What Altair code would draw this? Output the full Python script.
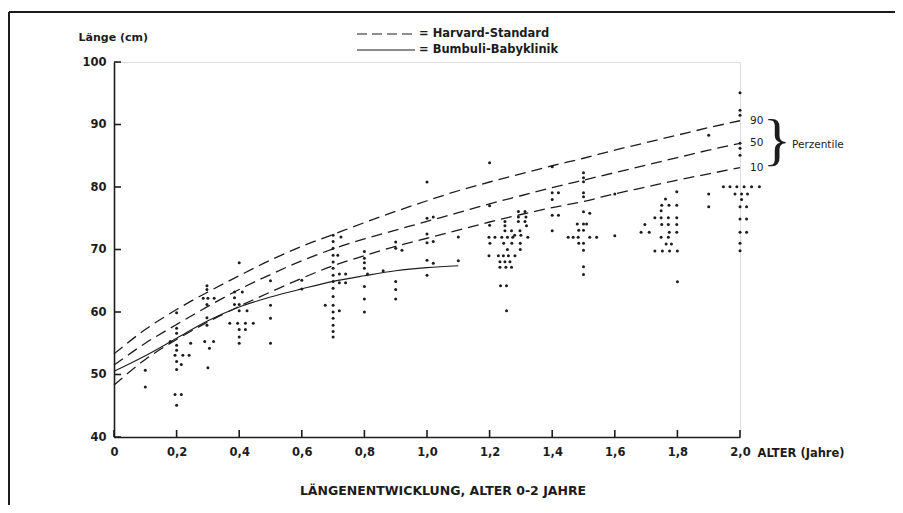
import altair as alt
import pandas as pd

# ---------------- data ----------------
curve_age = [0.0, 0.1, 0.2, 0.3, 0.4, 0.5, 0.6, 0.7, 0.8, 0.9, 1.0,
             1.1, 1.2, 1.3, 1.4, 1.5, 1.6, 1.7, 1.8, 1.9, 2.0]
p90 = [53.3, 57.2, 60.4, 63.2, 65.8, 68.3, 70.5, 72.4, 74.3, 76.1, 77.8,
       79.4, 80.8, 82.1, 83.4, 84.6, 85.9, 87.1, 88.3, 89.5, 90.6]
p50 = [51.5, 55.0, 58.0, 60.9, 63.6, 66.0, 68.2, 70.1, 71.7, 73.1, 74.5,
       75.9, 77.3, 78.6, 79.9, 81.1, 82.3, 83.5, 84.7, 85.9, 87.0]
p10 = [48.3, 52.4, 55.6, 58.4, 60.9, 63.2, 65.4, 67.4, 69.0, 70.5, 71.8,
       73.1, 74.4, 75.6, 76.7, 77.7, 78.9, 80.0, 81.1, 82.1, 83.1]
bumbuli_age = [0.0, 0.1, 0.2, 0.3, 0.4, 0.5, 0.6, 0.7, 0.8, 0.9, 1.0, 1.1]
bumbuli_len = [50.5, 53.0, 55.8, 58.6, 60.8, 62.4, 63.7, 64.9, 65.8, 66.6, 67.1, 67.4]

dot_age = [
    0.10, 0.10,
    0.20, 0.20, 0.20, 0.18, 0.20, 0.245, 0.20, 0.195, 0.22, 0.24, 0.20, 0.215, 0.20, 0.195, 0.215, 0.20,
    0.297, 0.297, 0.285, 0.30, 0.32, 0.297, 0.297, 0.297, 0.29, 0.318, 0.305, 0.30,
    0.40, 0.385, 0.41, 0.385, 0.385, 0.40, 0.40, 0.425, 0.37, 0.395, 0.42, 0.445, 0.40, 0.42, 0.40, 0.40,
    0.50, 0.50, 0.50, 0.50,
    0.60, 0.60,
    0.70, 0.70, 0.70, 0.70, 0.70, 0.70, 0.70, 0.70, 0.70, 0.70, 0.70, 0.70, 0.70, 0.70, 0.70, 0.70,
    0.725, 0.715, 0.72, 0.74, 0.72, 0.74, 0.675, 0.72,
    0.80, 0.80, 0.80, 0.80, 0.81, 0.80, 0.80, 0.80,
    0.86,
    0.90, 0.90, 0.92, 0.90, 0.90, 0.90,
    1.00, 1.00, 1.02, 1.00, 1.00, 1.02, 1.00, 1.02, 1.00,
    1.10, 1.10,
    1.20, 1.20, 1.20,
    1.292, 1.313, 1.292, 1.316, 1.249, 1.292, 1.313, 1.249, 1.318,
    1.249, 1.27, 1.297, 1.28, 1.30,
    1.198, 1.217, 1.239, 1.257, 1.274, 1.322,
    1.201, 1.245, 1.271, 1.298, 1.257, 1.298,
    1.198, 1.228, 1.244, 1.26, 1.281,
    1.233, 1.249, 1.265, 1.233, 1.252, 1.27,
    1.235, 1.254, 1.254,
    1.40, 1.40, 1.42, 1.40, 1.40, 1.42, 1.40,
    1.50, 1.50, 1.50, 1.50, 1.50, 1.50, 1.52, 1.48, 1.50, 1.51, 1.485, 1.50,
    1.451, 1.467, 1.483, 1.52, 1.542, 1.485, 1.50, 1.50, 1.50, 1.50,
    1.60, 1.60,
    1.798, 1.762, 1.75, 1.773, 1.798, 1.748, 1.728, 1.748, 1.771, 1.798,
    1.696, 1.75, 1.771, 1.798, 1.684, 1.71, 1.774, 1.798, 1.748, 1.771,
    1.764, 1.781, 1.728, 1.752, 1.775, 1.80, 1.80,
    1.90, 1.90, 1.90,
    1.947, 1.968, 1.99, 2.013, 2.037, 2.062, 1.984, 2.005, 2.024, 2.005,
    2.00, 2.021, 2.00, 2.021, 2.00, 2.021, 2.00, 2.00,
    2.00, 2.00, 2.00, 2.00, 2.00, 2.00,
]
dot_len = [
    50.7, 48.0,
    59.9, 57.4, 56.6, 55.3, 54.7, 55.0, 53.9, 53.1, 53.1, 53.1, 52.1, 51.6, 50.8, 46.8, 46.8, 45.1,
    64.2, 63.6, 62.2, 62.2, 62.2, 61.2, 59.1, 57.9, 55.3, 55.3, 54.2, 51.1,
    67.9, 63.2, 63.2, 62.3, 61.2, 61.2, 60.2, 60.2, 58.2, 58.2, 58.2, 58.2, 57.2, 57.2, 56.0, 55.0,
    65.0, 61.1, 59.0, 55.0,
    65.1, 63.7,
    72.3, 71.3, 70.2, 69.1, 68.0, 67.0, 65.9, 64.9, 63.8, 62.5, 61.1, 60.0, 59.0, 57.9, 56.9, 56.0,
    72.0, 69.1, 66.1, 66.1, 64.7, 64.7, 61.1, 60.2,
    69.7, 68.6, 67.9, 67.0, 66.1, 64.1, 62.1, 60.0,
    66.6,
    71.2, 70.2, 69.9, 64.9, 63.6, 62.1,
    80.8, 75.0, 75.2, 72.5, 71.1, 71.3, 68.3, 67.8, 65.9,
    72.0, 68.2,
    83.9, 77.0, 73.9,
    76.1, 76.1, 75.2, 75.2, 74.5, 74.5, 74.5, 73.8, 73.8,
    73.0, 73.0, 73.0, 72.3, 72.3,
    71.95, 71.95, 71.95, 71.95, 71.95, 71.95,
    71.0, 71.0, 71.0, 71.0, 70.0, 70.0,
    69.0, 69.0, 69.0, 69.0, 69.0,
    68.05, 68.05, 68.05, 67.15, 67.15, 67.15,
    64.2, 64.2, 60.2,
    83.25, 79.1, 79.1, 78.0, 75.5, 75.5, 73.0,
    82.3, 81.5, 80.85, 79.1, 78.45, 76.05, 75.8, 74.1, 74.1, 74.1, 73.1, 73.1,
    71.95, 71.95, 71.95, 71.95, 71.95, 71.0, 71.0, 69.9, 67.25, 66.0,
    78.9, 72.2,
    79.25, 78.1, 77.1, 77.1, 77.1, 76.2, 75.1, 75.1, 75.1, 75.1,
    74.0, 74.0, 74.0, 74.0, 72.75, 72.75, 72.75, 72.75, 71.95, 71.95,
    70.9, 70.9, 69.76, 69.76, 69.76, 69.76, 64.85,
    88.3, 78.9, 76.85,
    80.05, 80.05, 80.05, 80.05, 80.05, 80.05, 78.9, 78.9, 78.9, 78.0,
    76.85, 76.85, 74.9, 74.9, 72.75, 72.75, 71.0, 69.8,
    95.1, 92.3, 91.5, 87.0, 86.2, 85.1,
]

pct_labels = ["90", "50", "10"]
x_tick_values = [0.0, 0.2, 0.4, 0.6, 0.8, 1.0, 1.2, 1.4, 1.6, 1.8, 2.0]
y_tick_values = [40, 50, 60, 70, 80, 90, 100]
legend_labels = ["= Harvard-Standard", "= Bumbuli-Babyklinik"]
chart_title = "LÄNGENENTWICKLUNG, ALTER 0-2 JAHRE"

# ---------------- tables ----------------
rows = []
for name, vals in zip(pct_labels, [p90, p50, p10]):
    for a, v in zip(curve_age, vals):
        rows.append({"curve": "H" + name, "age": a, "len": v})
harvard_df = pd.DataFrame(rows)
bumbuli_df = pd.DataFrame({"curve": "B", "age": bumbuli_age, "len": bumbuli_len})
dots_df = pd.DataFrame({"age": dot_age, "len": dot_len})
pct_df = pd.DataFrame({"age": [2.0] * 3, "len": [p90[-1], p50[-1], p10[-1]], "label": pct_labels})
brace_df = pd.DataFrame({"age": [2.0], "len": [(p90[-1] + p10[-1]) / 2]})
xt_df = pd.DataFrame({"age": x_tick_values})
yt_df = pd.DataFrame({"len": y_tick_values})
one = pd.DataFrame({"k": [0]})

INK = "#1c1c1c"
FONT = "DejaVu Sans"

xscale = alt.Scale(domain=[0, 2], nice=False, zero=False)
yscale = alt.Scale(domain=[40, 100], nice=False, zero=False)

xaxis = alt.Axis(
    values=x_tick_values, grid=False, ticks=False, tickSize=0,
    domainColor=INK, domainWidth=1.6,
    labelExpr="datum.value == 0 ? '0' : replace(format(datum.value, '.1f'), '.', ',')",
    labelFont=FONT, labelFontSize=11.5, labelFontWeight="bold", labelColor=INK,
    labelPadding=9, labelFlush=False,
    title="ALTER (Jahre)", titleFont=FONT, titleFontSize=11.5, titleFontWeight="bold",
    titleColor=INK, titleX=643, titleY=16, titleAlign="left", titleBaseline="middle",
)
yaxis = alt.Axis(
    values=y_tick_values, grid=False, ticks=False, tickSize=0,
    domainColor=INK, domainWidth=1.6,
    labelFont=FONT, labelFontSize=11.5, labelFontWeight="bold", labelColor=INK,
    labelPadding=8,
    title="Länge (cm)", titleFont=FONT, titleFontSize=11, titleFontWeight="bold",
    titleColor=INK, titleAngle=0, titleX=-36, titleY=-25, titleAlign="left",
    titleBaseline="middle",
)

X = alt.X("age:Q", scale=xscale, axis=xaxis)
Y = alt.Y("len:Q", scale=yscale, axis=yaxis)

harvard = alt.Chart(harvard_df).mark_line(
    color=INK, strokeWidth=1.3, strokeDash=[11, 6], interpolate="monotone"
).encode(x=X, y=Y, detail="curve:N")

bumbuli = alt.Chart(bumbuli_df).mark_line(
    color=INK, strokeWidth=1.1, interpolate="monotone"
).encode(x=X, y=Y)

dots = alt.Chart(dots_df).mark_circle(color=INK, size=9, opacity=1).encode(x=X, y=Y)

pct_text = alt.Chart(pct_df).mark_text(
    align="left", baseline="middle", dx=10, font=FONT, fontSize=10.5, color=INK
).encode(x=X, y=Y, text="label:N")

brace = alt.Chart(brace_df).mark_text(
    align="left", baseline="middle", dx=23, dy=-2, font="Liberation Serif", fontSize=58,
    color=INK, text="}"
).encode(x=X, y=Y)

perz = alt.Chart(brace_df).mark_text(
    align="left", baseline="middle", dx=52, dy=1, font=FONT, fontSize=10.5, color=INK,
    text="Perzentile"
).encode(x=X, y=Y)

xticks = alt.Chart(xt_df).mark_rule(color=INK, strokeWidth=1.6).encode(
    x=X, y=alt.value(375), y2=alt.value(368)
)
yticks = alt.Chart(yt_df).mark_rule(color=INK, strokeWidth=1.6).encode(
    y=Y, x=alt.value(0), x2=alt.value(7)
)

# legend (drawn by hand, above the plot)
leg_dash = alt.Chart(one).mark_rule(
    color=INK, strokeWidth=1.2, strokeDash=[10, 5]
).encode(x=alt.value(243), x2=alt.value(301), y=alt.value(-28))
leg_solid = alt.Chart(one).mark_rule(
    color=INK, strokeWidth=1.1
).encode(x=alt.value(243), x2=alt.value(301), y=alt.value(-12))
leg_t1 = alt.Chart(one).mark_text(
    align="left", baseline="middle", font=FONT, fontSize=11.5, fontWeight="bold",
    color=INK, text=legend_labels[0]
).encode(x=alt.value(305), y=alt.value(-28))
leg_t2 = alt.Chart(one).mark_text(
    align="left", baseline="middle", font=FONT, fontSize=11.5, fontWeight="bold",
    color=INK, text=legend_labels[1]
).encode(x=alt.value(305), y=alt.value(-12))

# caption below the chart
caption = alt.Chart(one).mark_text(
    align="center", baseline="middle", font=FONT, fontSize=12.5, fontWeight="bold",
    color=INK, text=chart_title
).encode(x=alt.value(329), y=alt.value(429))

# frame of the figure (left and top edges)
frame_top = alt.Chart(one).mark_rule(color=INK, strokeWidth=2).encode(
    x=alt.value(-105), x2=alt.value(790), y=alt.value(-50)
)
frame_left = alt.Chart(one).mark_rule(color=INK, strokeWidth=2).encode(
    x=alt.value(-105), y=alt.value(-50), y2=alt.value(460)
)

chart = alt.layer(
    harvard, bumbuli, dots, pct_text, brace, perz, xticks, yticks,
    leg_dash, leg_solid, leg_t1, leg_t2, caption, frame_top, frame_left,
).properties(
    width=626, height=375,
    autosize=alt.AutoSizeParams(type="none"),
    padding={"left": 106, "top": 54, "right": 155, "bottom": 68},
).configure_view(stroke=None).configure(background="white")

chart.save("out.html", embed_options={"renderer": "svg", "actions": False})
